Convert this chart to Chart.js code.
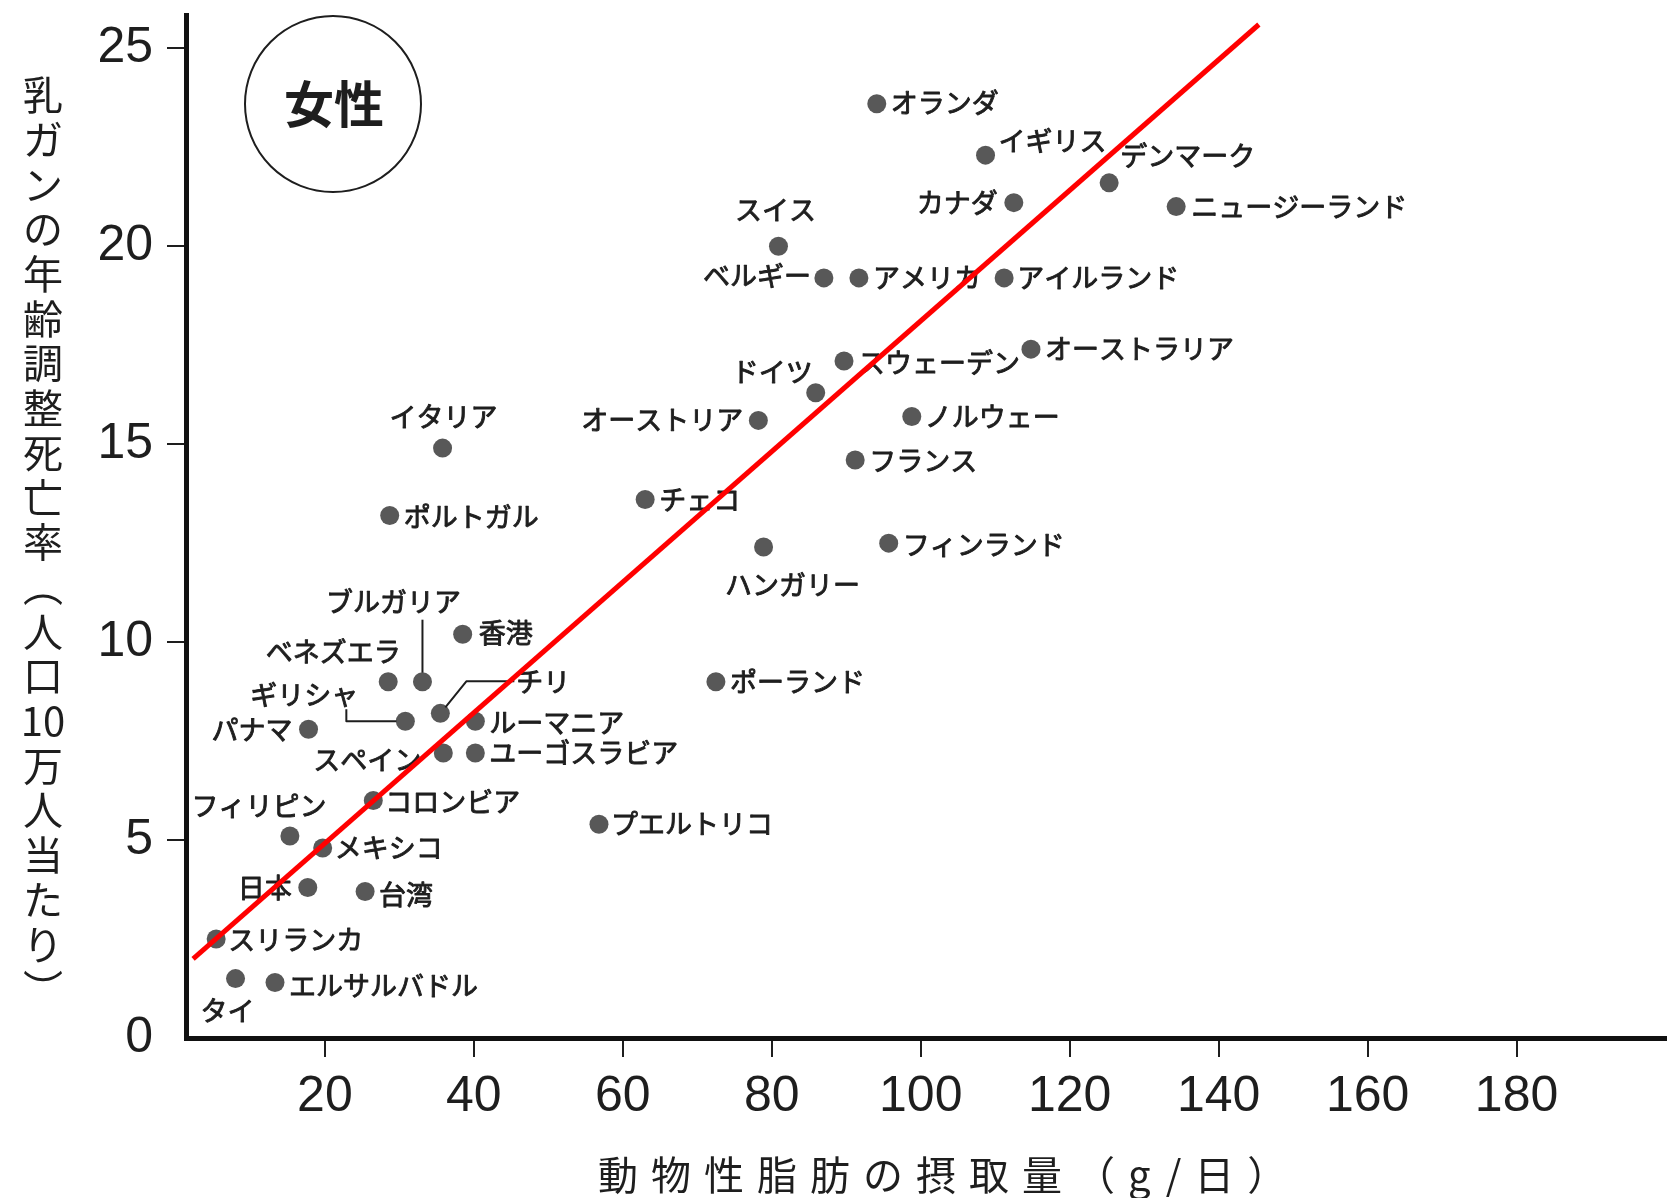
<!DOCTYPE html>
<html lang="ja">
<head>
<meta charset="utf-8">
<title>動物性脂肪の摂取量と乳ガンの年齢調整死亡率（女性）</title>
<script src="https://cdn.jsdelivr.net/npm/chart.js@4.4.1/dist/chart.umd.min.js"></script>
<style>
  html, body { margin: 0; padding: 0; background: #fff; }
  #wrap { width: 1675px; height: 1198px; }
</style>
</head>
<body>
<div id="wrap"><canvas id="chart" width="1675" height="1198"></canvas></div>
<script>
// 国・地域ごとの値
const countries = [
  'オランダ', 'イギリス', 'デンマーク', 'カナダ', 'ニュージーランド',
  'スイス', 'ベルギー', 'アメリカ', 'アイルランド', 'オーストラリア',
  'スウェーデン', 'ドイツ', 'オーストリア', 'ノルウェー', 'イタリア',
  'フランス', 'チェコ', 'ポルトガル', 'フィンランド', 'ハンガリー',
  '香港', 'ブルガリア', 'ベネズエラ', 'ポーランド', 'チリ',
  'ルーマニア', 'ギリシャ', 'パナマ', 'スペイン', 'ユーゴスラビア',
  'コロンビア', 'プエルトリコ', 'フィリピン', 'メキシコ', '日本',
  '台湾', 'スリランカ', 'タイ', 'エルサルバドル'
];
// 動物性脂肪の摂取量（g/日）
const fatIntake = [
  94.1, 108.7, 125.3, 112.5, 134.3,
  80.9, 87.0, 91.7, 111.2, 114.8,
  89.7, 85.9, 78.2, 98.8, 35.8,
  91.2, 63.0, 28.7, 95.7, 78.9,
  38.5, 33.1, 28.5, 72.5, 35.5,
  40.2, 30.8, 17.8, 35.9, 40.2,
  26.5, 56.8, 15.3, 19.7, 17.7,
  25.4, 5.4, 8.0, 13.3
];
// 乳ガンの年齢調整死亡率（人口10万人当たり）
const mortality = [
  23.6, 22.3, 21.6, 21.1, 21.0,
  20.0, 19.2, 19.2, 19.2, 17.4,
  17.1, 16.3, 15.6, 15.7, 14.9,
  14.6, 13.6, 13.2, 12.5, 12.4,
  10.2, 9.0, 9.0, 9.0, 8.2,
  8.0, 8.0, 7.8, 7.2, 7.2,
  6.0, 5.4, 5.1, 4.8, 3.8,
  3.7, 2.5, 1.5, 1.4
];
// 傾向線の両端
const trendX = [2.3, 145.4];
const trendY = [2.0, 25.6];

const xTickValues = [20, 40, 60, 80, 100, 120, 140, 160, 180];
const yTickValues = [0, 5, 10, 15, 20, 25];

const xTitle = '動物性脂肪の摂取量（g/日）';
const yTitle = '乳ガンの年齢調整死亡率（人口10万人当たり）';
const badgeText = '女性';

// ラベルの配置: [textAlign, 点からのx方向ずれ, y方向ずれ]
const labelPlacement = {
  'オランダ': ['left', 14, -1],
  'イギリス': ['left', 13, -14],
  'デンマーク': ['left', 11, -27],
  'カナダ': ['right', -16, 0],
  'ニュージーランド': ['left', 15, 0],
  'スイス': ['center', -3, -36],
  'ベルギー': ['right', -13, -2],
  'アメリカ': ['left', 14, 0],
  'アイルランド': ['left', 13, 0],
  'オーストラリア': ['left', 14, 0],
  'スウェーデン': ['left', 14, 2],
  'ドイツ': ['right', -3, -21],
  'オーストリア': ['right', -15, -1],
  'ノルウェー': ['left', 13, 0],
  'イタリア': ['center', 1, -31],
  'フランス': ['left', 14, 1],
  'チェコ': ['left', 14, 0],
  'ポルトガル': ['left', 14, 1],
  'フィンランド': ['left', 14, 2],
  'ハンガリー': ['center', 29, 38],
  '香港': ['left', 16, -1],
  'ブルガリア': ['center', -29, -80],
  'ベネズエラ': ['center', -55, -30],
  'ポーランド': ['left', 14, 0],
  'チリ': ['left', 76, -32],
  'ルーマニア': ['left', 14, 1],
  'ギリシャ': ['center', -101, -27],
  'パナマ': ['right', -16, 1],
  'スペイン': ['right', -22, 7],
  'ユーゴスラビア': ['left', 14, 0],
  'コロンビア': ['left', 12, 1],
  'プエルトリコ': ['left', 12, 0],
  'フィリピン': ['center', -31, -30],
  'メキシコ': ['left', 12, 0],
  '日本': ['right', -16, 0],
  '台湾': ['left', 14, 3],
  'スリランカ': ['left', 12, 1],
  'タイ': ['center', -8, 32],
  'エルサルバドル': ['left', 14, 3]
};

// 引き出し線（点を原点とする折れ線）
const leaders = {
  'ブルガリア': [[0, -62], [0, -9]],
  'チリ': [[5, -6], [26, -32], [74, -32]],
  'ギリシャ': [[-59, -12], [-59, 0], [-9, 0]]
};

const INK = '#1e1e1e';
const LABEL_FONT = '27px "Noto Sans CJK JP", sans-serif';
const TICK_FONT = { family: '"Liberation Sans", Arial, sans-serif', size: 50 };

// 点のラベルは傾向線より先に描く（細い縁取りで中太に見せる）
const pointLabels = {
  id: 'pointLabels',
  afterDatasetDraw(chart, args) {
    if (args.index !== 1) return;
    const ctx = chart.ctx;
    ctx.save();
    ctx.font = LABEL_FONT;
    ctx.fillStyle = INK;
    ctx.strokeStyle = INK;
    ctx.textBaseline = 'middle';
    ctx.lineJoin = 'round';
    args.meta.data.forEach((pt, i) => {
      const name = countries[i];
      const place = labelPlacement[name];
      const tx = pt.x + place[1];
      const ty = pt.y + place[2];
      ctx.textAlign = place[0];
      ctx.lineWidth = 0.9;
      ctx.strokeText(name, tx, ty);
      ctx.fillText(name, tx, ty);
      const path = leaders[name];
      if (path) {
        ctx.lineWidth = 2;
        ctx.beginPath();
        path.forEach(([dx, dy], k) => {
          if (k === 0) ctx.moveTo(pt.x + dx, pt.y + dy);
          else ctx.lineTo(pt.x + dx, pt.y + dy);
        });
        ctx.stroke();
      }
    });
    ctx.restore();
  }
};

// 軸タイトル（縦書き含む）と「女性」の丸印
const titlesAndBadge = {
  id: 'titlesAndBadge',
  afterDraw(chart) {
    const ctx = chart.ctx;
    ctx.save();
    ctx.fillStyle = INK;
    ctx.textBaseline = 'middle';

    // x軸タイトル
    ctx.font = '40px "Noto Sans CJK JP", sans-serif';
    ctx.textAlign = 'left';
    ctx.letterSpacing = '13px';
    ctx.fillText(xTitle, 598, 1175);
    ctx.letterSpacing = '0px';

    // y軸タイトル（縦書き、数字は縦中横）
    const cells = yTitle.match(/\d+|./gu);
    ctx.textAlign = 'center';
    cells.forEach((c, i) => {
      const cy = 95 + i * 44.7;
      if (c === '（' || c === '）') {
        ctx.save();
        ctx.translate(43, cy);
        ctx.rotate(Math.PI / 2);
        ctx.fillText(c, 0, 0);
        ctx.restore();
      } else {
        ctx.fillText(c, 43, cy);
      }
    });

    // 丸囲みの「女性」
    ctx.beginPath();
    ctx.arc(333, 104, 88, 0, Math.PI * 2);
    ctx.lineWidth = 2;
    ctx.strokeStyle = INK;
    ctx.stroke();
    ctx.font = 'bold 50px "Noto Sans CJK JP", sans-serif';
    ctx.fillText(badgeText, 334, 104);
    ctx.restore();
  }
};

const hideZero = (c) => (c.tick && c.tick.value === 0) ? 'rgba(0,0,0,0)' : INK;

new Chart(document.getElementById('chart'), {
  type: 'scatter',
  data: {
    datasets: [
      {
        label: '傾向線',
        data: trendX.map((x, i) => ({ x, y: trendY[i] })),
        showLine: true,
        borderColor: '#ff0000',
        borderWidth: 5,
        pointRadius: 0,
        order: 0
      },
      {
        label: '乳ガンの年齢調整死亡率',
        data: fatIntake.map((x, i) => ({ x, y: mortality[i] })),
        backgroundColor: '#585858',
        borderWidth: 0,
        pointRadius: 9.5,
        order: 1
      }
    ]
  },
  options: {
    responsive: false,
    animation: false,
    devicePixelRatio: 1,
    events: [],
    layout: { padding: { top: 15, left: 0, right: 0, bottom: 0 } },
    plugins: { legend: { display: false }, tooltip: { enabled: false } },
    scales: {
      x: {
        type: 'linear',
        min: 1.35,
        max: 200,
        afterBuildTicks: (s) => { s.ticks = xTickValues.map(v => ({ value: v })); },
        afterFit: (s) => { s.height = 160; s.paddingLeft = 0; s.paddingRight = 0; },
        grid: { drawOnChartArea: false, drawTicks: true, tickLength: 19, lineWidth: 2, color: INK },
        border: { display: true, color: '#111', width: 5 },
        ticks: { font: TICK_FONT, color: INK, padding: 10, maxRotation: 0, autoSkip: false }
      },
      y: {
        type: 'linear',
        min: 0,
        max: 25.84,
        afterBuildTicks: (s) => { s.ticks = yTickValues.map(v => ({ value: v })); },
        afterFit: (s) => { s.width = 186; s.paddingTop = 0; s.paddingBottom = 0; },
        grid: { drawOnChartArea: false, drawTicks: true, tickLength: 19, lineWidth: 2, color: hideZero },
        border: { display: true, color: '#111', width: 5 },
        ticks: { font: TICK_FONT, color: INK, padding: 14, autoSkip: false }
      }
    }
  },
  plugins: [pointLabels, titlesAndBadge]
});
</script>
</body>
</html>
